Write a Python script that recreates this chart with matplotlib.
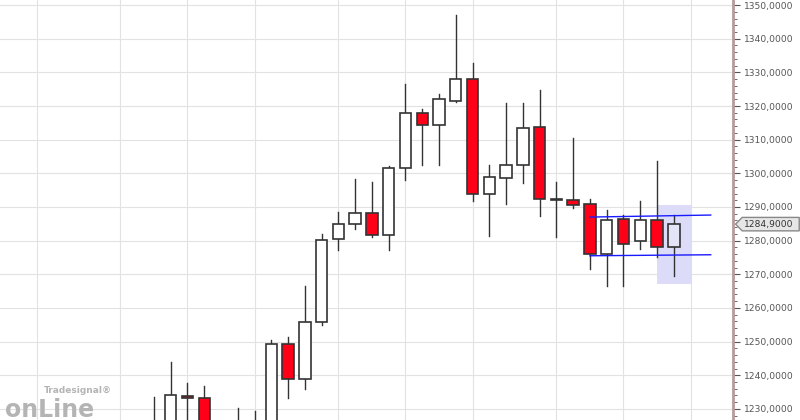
import matplotlib
matplotlib.use("Agg")
import matplotlib.pyplot as plt
from matplotlib.patches import Rectangle, Polygon
from matplotlib.ticker import MultipleLocator, FuncFormatter

opens  = [1224,1225,1233.9,1233.3,1222,1222,1222,1225,1249.3,1238.9,1255.8,1280.5,1285.0,1288.2,1281.7,1301.6,1317.9,1314.4,1321.5,1328.0,1293.9,1298.6,1302.5,1313.8,1292.4,1292.1,1290.9,1276.0,1286.4,1279.9,1286.1,1278.1]
highs  = [1233.6,1244.0,1237.7,1236.8,1225,1230.3,1229.4,1250.5,1251.4,1266.5,1282.0,1288.5,1298.3,1297.4,1302.2,1326.5,1319.1,1323.6,1347.0,1332.8,1302.5,1320.9,1320.9,1324.8,1297.4,1310.5,1292.4,1289.1,1287.6,1291.8,1303.7,1287.6]
lows   = [1220,1222,1226,1222,1218,1218,1218,1220,1233.3,1235.9,1255.0,1277.2,1283.5,1281.1,1277.2,1298.0,1302.5,1302.5,1321.2,1291.8,1281.4,1290.9,1297.1,1287.3,1281.1,1289.7,1271.6,1266.5,1266.5,1277.5,1275.2,1269.5]
closes = [1225.5,1234.2,1233.3,1225,1224,1225,1225,1249.3,1238.9,1255.8,1280.2,1285.0,1288.2,1281.7,1301.6,1317.9,1314.4,1322.1,1328.0,1293.9,1298.9,1302.5,1313.5,1292.4,1292.1,1290.6,1276.0,1286.1,1279.0,1286.1,1278.1,1284.9]
grid_idx = [-7, -2, 2, 6, 11, 15, 19, 24, 28, 32]
upper_line = (26.0, 33.2, 1287.0, 1287.6)
lower_line = (26.0, 33.2, 1275.5, 1275.8)
last_price = 1284.9

fig = plt.figure(figsize=(8, 4.2), dpi=100)
ax = fig.add_axes([0, 0, 733/800, 1])
xmax = 34.53
ax.set_xlim(-9.18, xmax)
ax.set_ylim(1226.7, 1351.5)

for g in grid_idx:
    ax.axvline(g, color="#e2e2e2", lw=0.8, zorder=0)
for p in range(1230, 1351, 10):
    ax.axhline(p, color="#e2e2e2", lw=0.8, zorder=0)

ax.add_patch(Rectangle((30.0, 1267.1), 2.1, 23.5, facecolor="#dcdcf8", edgecolor="none", zorder=1))

w = 0.68
for i, (o, h, l, c) in enumerate(zip(opens, highs, lows, closes)):
    ax.plot([i, i], [l, h], color="#333333", lw=1, zorder=2)
    bottom, top = min(o, c), max(o, c)
    if c >= o:
        fc = "#e4e4f8" if i == len(opens) - 1 else "white"
    else:
        fc = "#ff0019"
    ax.add_patch(Rectangle((i - w/2, bottom), w, max(top - bottom, 0.3), facecolor=fc,
                           edgecolor="#333333", lw=1.2, zorder=3))

for x0, x1, y0, y1 in (upper_line, lower_line):
    ax.plot([x0, x1], [y0, y1], color="#1a1aff", lw=1, zorder=4)

ax.yaxis.tick_right()
ax.yaxis.set_major_locator(MultipleLocator(10))
ax.yaxis.set_minor_locator(MultipleLocator(2))
ax.yaxis.set_major_formatter(FuncFormatter(lambda v, _: f"{v:.4f}".replace(".", ",")))
ax.tick_params(axis="y", which="major", length=5, color="#555555", labelsize=6.6, labelcolor="#555555", pad=3)
ax.tick_params(axis="y", which="minor", length=3, color="#555555")
ax.set_xticks([])
for s in ("top", "bottom", "left"):
    ax.spines[s].set_visible(False)
ax.spines["right"].set_color("#b89c9c")
ax.spines["right"].set_linewidth(2)

# price tag
tag_y = last_price
ax.add_patch(Polygon([(xmax + 0.15, tag_y), (xmax + 0.55, tag_y + 2.0), (xmax + 3.95, tag_y + 2.0),
                      (xmax + 3.95, tag_y - 2.0), (xmax + 0.55, tag_y - 2.0)], closed=True,
                     facecolor="#e6e6e6", edgecolor="#888888", lw=1, clip_on=False, zorder=5))
ax.text(xmax + 0.65, tag_y, "1284,9000", fontsize=6.6, color="#333333", va="center", ha="left",
        zorder=6, clip_on=False)

# logo
fig.text(0.006, 0.008, "onLine", fontsize=17, fontweight="bold", color="#b4b4b4")
fig.text(0.055, 0.065, "Tradesignal®", fontsize=6.5, fontweight="bold", color="#b4b4b4")

fig.savefig("out.png", dpi=100)
